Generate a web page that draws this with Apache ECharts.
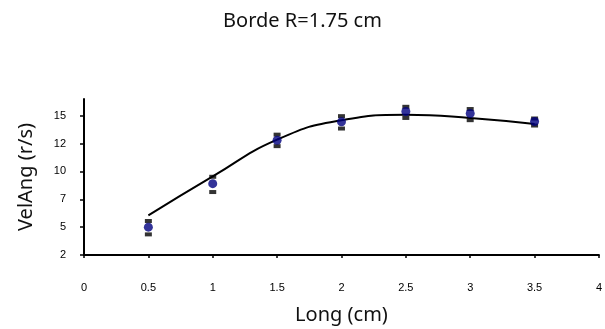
<!DOCTYPE html>
<html>
<head>
<meta charset="utf-8">
<script src="https://cdn.jsdelivr.net/npm/echarts@6/dist/echarts.min.js"></script>
<style>
  html, body { margin: 0; padding: 0; background: #fff; }
  #chart { width: 605px; height: 329px; }
</style>
</head>
<body>
<div id="chart"></div>
<script>
// measured points (x in cm, angular velocity r/s)
const longCm = [0.5, 1, 1.5, 2, 2.5, 3, 3.5];
const velAng = [5.0, 8.9, 12.8, 14.45, 15.38, 15.2, 14.48];
const velHigh = [5.55, 9.52, 13.3, 14.96, 15.8, 15.6, 14.75];
const velLow = [4.35, 8.15, 12.27, 13.85, 14.8, 14.6, 14.12];

// trend line
const trendX = [0.5, 1.0, 1.5, 2.0, 2.5, 3.0, 3.5];
const trendY = [6.05, 9.55, 12.85, 14.6, 15.08, 14.8, 14.25];

const pairs = (xs, ys) => xs.map((x, i) => [x, ys[i]]);

const chart = echarts.init(document.getElementById('chart'));
const tickFont = { fontFamily: 'Liberation Sans', fontSize: 11, color: '#000' };
const nameFont = { fontFamily: 'Noto Sans', fontSize: 20, color: '#111' };

chart.setOption({
  animation: false,
  title: {
    text: 'Borde R=1.75 cm',
    left: 'center',
    top: 6,
    textStyle: Object.assign({ fontWeight: 'normal' }, nameFont)
  },
  grid: { left: 84, right: 1, top: 99, bottom: 74 },
  xAxis: {
    type: 'value',
    min: 0,
    max: 4,
    interval: 0.5,
    name: 'Long (cm)',
    nameLocation: 'middle',
    nameGap: 50,
    nameTextStyle: nameFont,
    axisLine: { lineStyle: { color: '#000', width: 2 } },
    axisTick: { length: 3, lineStyle: { color: '#000', width: 1.5 } },
    axisLabel: Object.assign({ margin: 27 }, tickFont),
    splitLine: { show: false }
  },
  yAxis: {
    type: 'value',
    min: 2.5,
    max: 16.5,
    interval: 2.5,
    name: 'VelAng (r/s)',
    nameLocation: 'middle',
    nameGap: 48,
    nameTextStyle: nameFont,
    axisLine: { show: true, lineStyle: { color: '#000', width: 2 } },
    axisTick: { show: true, length: 4, lineStyle: { color: '#000', width: 1.5 } },
    axisLabel: Object.assign({
      margin: 18,
      showMaxLabel: false,
      formatter: v => String(Math.floor(v))
    }, tickFont),
    splitLine: { show: false }
  },
  series: [
    {
      name: 'high',
      type: 'scatter',
      symbol: 'rect',
      symbolSize: [7, 4],
      itemStyle: { color: '#000' },
      data: pairs(longCm, velHigh)
    },
    {
      name: 'low',
      type: 'scatter',
      symbol: 'rect',
      symbolSize: [7, 4],
      itemStyle: { color: '#000' },
      data: pairs(longCm, velLow)
    },
    {
      name: 'trend',
      type: 'line',
      smooth: true,
      showSymbol: false,
      lineStyle: { color: '#000', width: 2 },
      data: pairs(trendX, trendY)
    },
    {
      name: 'VelAng',
      type: 'scatter',
      symbol: 'circle',
      symbolSize: 9,
      itemStyle: { color: '#000080' },
      data: pairs(longCm, velAng),
      z: 5
    }
  ]
});
</script>
</body>
</html>
